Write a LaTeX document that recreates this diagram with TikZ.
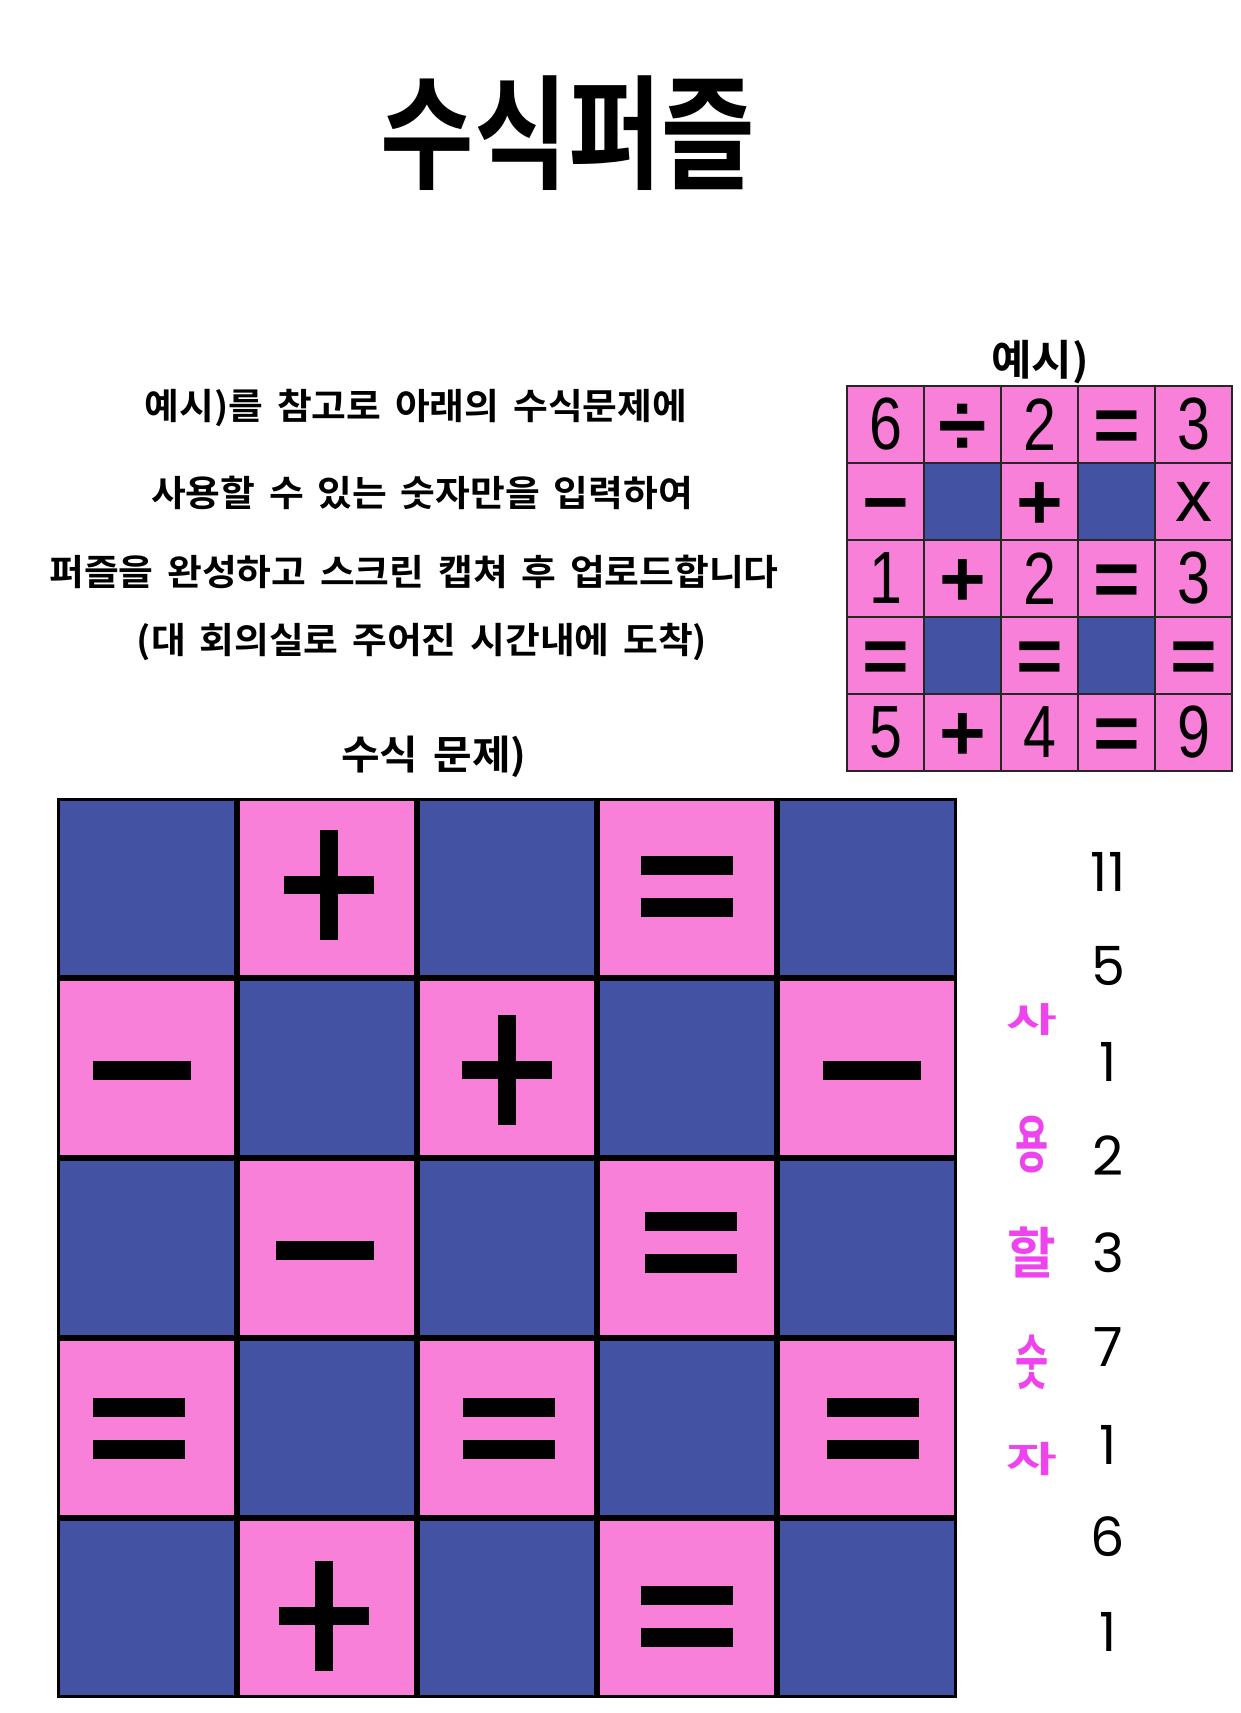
\documentclass[tikz,border=0pt]{standalone}
\usepackage{fontspec}
\usepackage{graphicx}
\newfontfamily\titlefont[FakeStretch=0.82]{Noto Sans CJK KR Bold}
\newfontfamily\bodyfont[FakeStretch=1.05,WordSpace=1.6]{Noto Sans CJK KR Bold}
\newfontfamily\sidefont{Noto Sans CJK KR Bold}
\newfontfamily\digfont[FakeStretch=0.8]{Liberation Sans}
\newfontfamily\opfont{Liberation Sans Bold}
\newfontfamily\xfont{Liberation Sans}
\newfontfamily\numfont{Poppins}
\definecolor{cpink}{HTML}{F880D8}
\definecolor{cblue}{HTML}{4352A3}
\definecolor{cmag}{HTML}{EE44EE}
\tikzset{
  bcell/.style={minimum size=174pt, inner sep=0pt, draw=none},
  ecell/.style={draw=black!85, line width=1.5pt, minimum size=77pt, inner sep=0pt},
  epink/.style={ecell, fill=cpink},
  eblue/.style={ecell, fill=cblue},
  dig/.style={font=\digfont\fontsize{74}{74}\selectfont},
  op/.style={font=\opfont\fontsize{80}{80}\selectfont, text height=56pt, text depth=0pt},
  opdiv/.style={font=\opfont\fontsize{88}{88}\selectfont, text height=61.5pt, text depth=0pt},
  opx/.style={font=\xfont\fontsize{74}{74}\selectfont},
  body/.style={font=\bodyfont\fontsize{36}{40}\selectfont, inner sep=0pt},
  side/.style={font=\sidefont\fontsize{48}{48}\selectfont, text=cmag, inner sep=0pt},
  num/.style={font=\numfont\fontsize{54}{54}\selectfont, inner sep=0pt},
  pics/plusbar/.style={code={
    \fill[black] (-45,-9) rectangle (45,9);
    \fill[black] (-9,-55) rectangle (9,55);}},
  pics/eqbar/.style={code={
    \fill[black] (-46,-30.5) rectangle (46,-11.5);
    \fill[black] (-46,11.5) rectangle (46,30.5);}},
  pics/minusbar/.style={code={
    \fill[black] (-49,-9.5) rectangle (49,9.5);}}
}
\begin{document}
\begin{tikzpicture}[x=1pt,y=-1pt]
\useasboundingbox (0,0) rectangle (1240,1713);
\fill[white] (0,0) rectangle (1240,1713);

% title
\node[font=\titlefont\fontsize{124}{124}\selectfont, inner sep=0pt] (title) at (568,133) {수식퍼즐};

% instructions
\node[body] (l1) at (416,408) {예시)를 참고로 아래의 수식문제에};
\node[body] (l2) at (422,493) {사용할 수 있는 숫자만을 입력하여};
\node[body] (l3) at (414,572) {퍼즐을 완성하고 스크린 캡쳐 후 업로드합니다};
\node[body] (l4) at (422,642) {(대 회의실로 주어진 시간내에 도착)};
\node[body, font=\bodyfont\fontsize{40}{44}\selectfont] (lq) at (434,757) {수식 문제)};
\node[body, font=\bodyfont\fontsize{42}{44}\selectfont] (le) at (1040,362) {예시)};

% example grid
\node[epink, dig]   (e00) at (885.5,424.5) {6};
\node[epink, opdiv] (e01) at (962.5,424.5) {÷};
\node[epink, dig]   (e02) at (1039.5,424.5) {2};
\node[epink, op]    (e03) at (1116.5,424.5) {=};
\node[epink, dig]   (e04) at (1193.5,424.5) {3};

\node[epink, op]  (e10) at (885.5,501.5) {−};
\node[eblue]      (e11) at (962.5,501.5) {};
\node[epink, op]  (e12) at (1039.5,501.5) {+};
\node[eblue]      (e13) at (1116.5,501.5) {};
\node[epink, opx] (e14) at (1193.5,501.5) {x};

\node[epink, dig] (e20) at (885.5,578.5) {1};
\node[epink, op]  (e21) at (962.5,578.5) {+};
\node[epink, dig] (e22) at (1039.5,578.5) {2};
\node[epink, op]  (e23) at (1116.5,578.5) {=};
\node[epink, dig] (e24) at (1193.5,578.5) {3};

\node[epink, op]  (e30) at (885.5,655.5) {=};
\node[eblue]      (e31) at (962.5,655.5) {};
\node[epink, op]  (e32) at (1039.5,655.5) {=};
\node[eblue]      (e33) at (1116.5,655.5) {};
\node[epink, op]  (e34) at (1193.5,655.5) {=};

\node[epink, dig] (e40) at (885.5,732.5) {5};
\node[epink, op]  (e41) at (962.5,732.5) {+};
\node[epink, dig] (e42) at (1039.5,732.5) {4};
\node[epink, op]  (e43) at (1116.5,732.5) {=};
\node[epink, dig] (e44) at (1193.5,732.5) {9};

% puzzle grid
\fill[black] (57,798) rectangle (957,1698);
\foreach \r in {0,...,4}{
  \foreach \c in {0,...,4}{
    \pgfmathtruncatemacro\s{mod(\r+\c,2)}
    \ifnum\s=1\relax\def\cc{cpink}\else\def\cc{cblue}\fi
    \node[bcell, fill=\cc] (b\r\c) at ({147+180*\c},{888+180*\r}) {};
  }
}
\pic at ([shift={(2,-3)}]b01.center) {plusbar};
\pic at ([shift={(0,-2)}]b03.center) {eqbar};
\pic at ([shift={(-5,2)}]b10.center) {minusbar};
\pic at ([shift={(0,2)}]b12.center) {plusbar};
\pic at ([shift={(5,2)}]b14.center) {minusbar};
\pic at ([shift={(-2,2.5)}]b21.center) {minusbar};
\pic at ([shift={(3.5,-5.5)}]b23.center) {eqbar};
\pic at ([shift={(-8,0)}]b30.center) {eqbar};
\pic at ([shift={(2,0)}]b32.center) {eqbar};
\pic at ([shift={(5.5,0)}]b34.center) {eqbar};
\pic at ([shift={(-3,8)}]b41.center) {plusbar};
\pic at ([shift={(0,8)}]b43.center) {eqbar};

% side label
\node[side] (s1) at (1032,1020) {\scalebox{1.15}[0.72]{사}};
\node[side] (s2) at (1032,1145) {\scalebox{0.75}[1.3]{용}};
\node[side] (s3) at (1032,1252) {\scalebox{1.1}[1.15]{할}};
\node[side] (s4) at (1032,1362) {\scalebox{0.75}[1.25]{숫}};
\node[side] (s5) at (1032,1459) {\scalebox{1.15}[0.75]{자}};

% numbers
\node[num] (n1) at (1108,872) {11};
\node[num] (n2) at (1108,966) {5};
\node[num] (n3) at (1108,1062) {1};
\node[num] (n4) at (1108,1156) {2};
\node[num] (n5) at (1108,1253) {3};
\node[num] (n6) at (1108,1347) {7};
\node[num] (n7) at (1108,1445) {1};
\node[num] (n8) at (1108,1537) {6};
\node[num] (n9) at (1108,1632) {1};
\end{tikzpicture}
\end{document}
